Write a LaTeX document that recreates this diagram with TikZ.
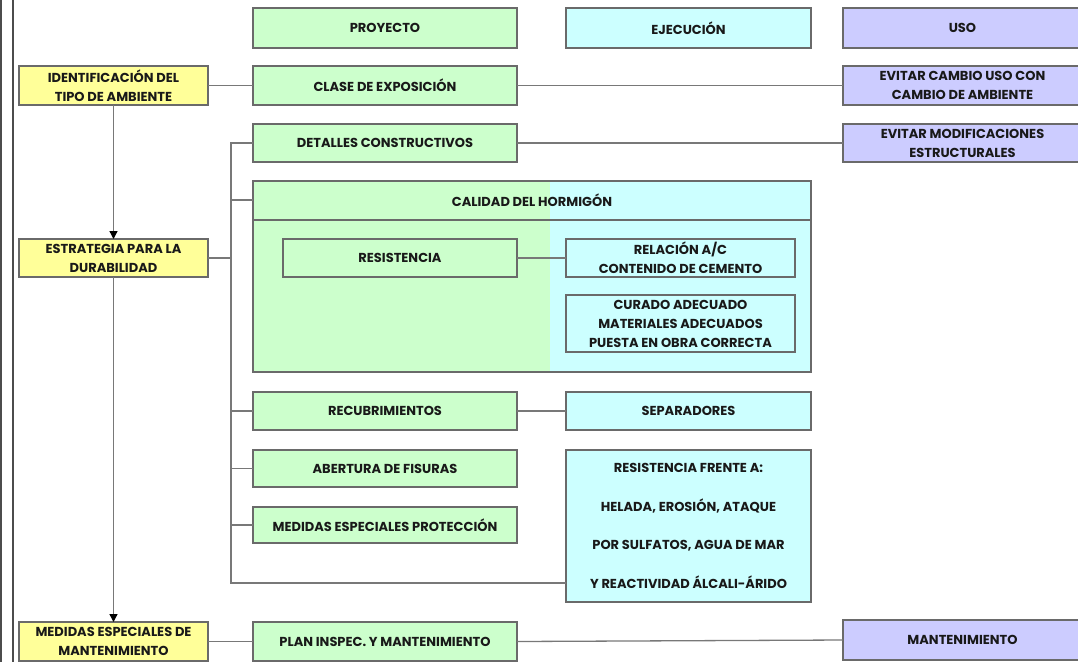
\documentclass[tikz,border=0pt]{standalone}
\usepackage{fontspec}
\setmainfont{Poppins}
\usetikzlibrary{arrows.meta,shadows}
\definecolor{gfill}{HTML}{CCFFCC}
\definecolor{cfill}{HTML}{CCFFFF}
\definecolor{pfill}{HTML}{CCCCFF}
\definecolor{yfill}{HTML}{FFFF99}
\definecolor{edge}{HTML}{6A6A6A}
\definecolor{conn}{HTML}{787878}
\tikzset{
  box/.style={draw=edge, line width=1.3pt, inner sep=0pt, outer sep=0pt, align=center,
    font=\fontsize{13}{19}\selectfont\bfseries, text=black!90,
    drop shadow={shadow xshift=1.3pt, shadow yshift=-1.3pt, opacity=0.5, fill=black}},
  gbox/.style={box, fill=gfill},
  cbox/.style={box, fill=cfill},
  pbox/.style={box, fill=pfill},
  ybox/.style={box, fill=yfill},
  wire/.style={draw=conn, line width=1.3pt},
  arr/.style={wire, -{Triangle[width=8pt,length=8pt,fill=black,color=black]}},
  lbl/.style={inner sep=0pt, font=\fontsize{13}{19}\selectfont\bfseries, text=black!90, align=center}
}
\newcommand{\bx}[7]{% style, name, x1, y1, x2, y2, text
  \node[#1, minimum width={#5-#3}, minimum height={#6-#4}] (#2) at ({(#3+#5)/2},{(#4+#6)/2}) {#7};}
\begin{document}
\begin{tikzpicture}[x=1pt,y=-1pt]
\useasboundingbox[fill=white] (0,0) rectangle (1078,662);
% border lines
\coordinate (b1t) at (1,0); \coordinate (b1b) at (1,662);
\coordinate (b2t) at (13,0); \coordinate (b2b) at (13,662);
\draw[draw=black!70, line width=1.2pt] (b1t) -- (b1b);
\draw[draw=black!70, line width=1.5pt] (b2t) -- (b2b);

% header row
\bx{gbox}{proy}{253}{8}{517}{48}{PROYECTO}
\bx{cbox}{ejec}{566}{8}{811}{48}{EJECUCIÓN}
\bx{pbox}{uso}{843}{8}{1082}{48}{USO}

% left column
\bx{ybox}{ident}{19}{66}{208}{105}{IDENTIFICACIÓN DEL\\TIPO DE AMBIENTE}
\bx{ybox}{estr}{19}{239}{208}{277}{ESTRATEGIA PARA LA\\DURABILIDAD}
\bx{ybox}{medm}{19}{622}{208}{661}{MEDIDAS ESPECIALES DE\\MANTENIMIENTO}

% project column
\bx{gbox}{clase}{253}{66}{517}{105}{CLASE DE EXPOSICIÓN}
\bx{gbox}{det}{253}{124}{517}{162}{DETALLES CONSTRUCTIVOS}

% calidad del hormigon
\fill[black, opacity=0.5] (254.3,182.3) rectangle (812.3,373.3);
\fill[gfill] (253,181) rectangle (550,372);
\fill[cfill] (550,181) rectangle (811,372);
\node[draw=edge, line width=1.3pt, inner sep=0pt, outer sep=0pt, minimum width=558, minimum height=191] (cal) at (532,276.5) {};
\coordinate (hl) at (253,220); \coordinate (hr) at (811,220);
\draw[draw=edge, line width=1.3pt] (hl) -- (hr);
\node[lbl] (caltxt) at (532,200) {CALIDAD DEL HORMIGÓN};
\bx{gbox}{res}{283}{239}{517}{277}{RESISTENCIA}
\bx{cbox}{rel}{566}{239}{795}{277}{RELACIÓN A/C\\CONTENIDO DE CEMENTO}
\bx{cbox}{cur}{566}{295}{795}{352}{CURADO ADECUADO\\MATERIALES ADECUADOS\\PUESTA EN OBRA CORRECTA}

\bx{gbox}{rec}{253}{392}{517}{430}{RECUBRIMIENTOS}
\bx{cbox}{sep}{566}{392}{811}{430}{SEPARADORES}
\bx{gbox}{abe}{253}{450}{517}{487}{ABERTURA DE FISURAS}
\bx{gbox}{mprot}{253}{507}{517}{543}{MEDIDAS ESPECIALES PROTECCIÓN}
\node[cbox, minimum width=245, minimum height=152, font=\fontsize{13}{38.5}\selectfont\bfseries] (rf) at (688.5,526)
  {RESISTENCIA FRENTE A:\\HELADA, EROSIÓN, ATAQUE\\POR SULFATOS, AGUA DE MAR\\Y REACTIVIDAD ÁLCALI-ÁRIDO};

\bx{gbox}{plan}{253}{622}{517}{661}{PLAN INSPEC. Y MANTENIMIENTO}

% use column
\bx{pbox}{evc}{843}{66}{1082}{105}{EVITAR CAMBIO USO CON\\CAMBIO DE AMBIENTE}
\bx{pbox}{evm}{843}{124}{1082}{162}{EVITAR MODIFICACIONES\\ESTRUCTURALES}
\bx{pbox}{mant}{843}{620}{1082}{660}{MANTENIMIENTO}

% connectors
\draw[arr] (ident.south) -- (estr.north);
\draw[arr] (estr.south) -- (medm.north);
\draw[wire] (ident.east) -- (clase.west);
\draw[wire] (clase.east) -- (evc.west);
\draw[wire] (det.east) -- (evm.west);
\draw[wire] (res.east) -- (rel.west);
\draw[wire] (rec.east) -- (sep.west);
\draw[wire] (medm.east) -- (plan.west);
\draw[wire] (plan.east) -- (mant.west);
% trunk
\coordinate (tr) at (231,258);
\coordinate (ttop) at (231,143);
\coordinate (tbot) at (231,583);
\coordinate (tcal) at (231,200);
\coordinate (rfw) at (566,583);
\coordinate (calw) at (253,200);
\draw[wire] (estr.east) -- (tr);
\draw[wire] (det.west) -- (ttop) -- (tbot) -- (rfw);
\draw[wire] (tcal) -- (calw);
\draw[wire] (rec.west) -| (tr);
\draw[wire] (abe.west) -| (tr);
\draw[wire] (mprot.west) -| (tr);
\end{tikzpicture}
\end{document}
